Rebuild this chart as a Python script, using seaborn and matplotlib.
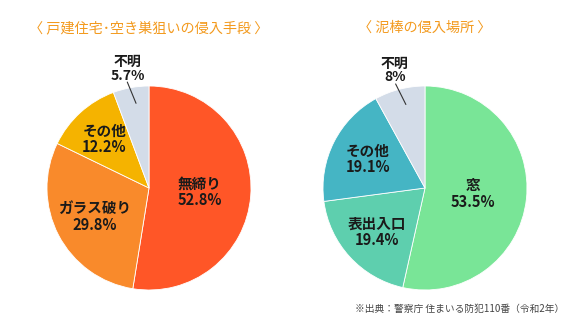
import numpy as np
import matplotlib
matplotlib.use("Agg")
import matplotlib.pyplot as plt
import seaborn as sns

sns.set_theme(style="white")
plt.rcParams['font.family'] = ['Noto Sans CJK JP', 'DejaVu Sans']

# data
left_title = "〈 戸建住宅･空き巣狙いの侵入手段 〉"
left_labels = ["無締り", "ガラス破り", "その他", "不明"]
left_values = [52.8, 29.8, 12.2, 5.7]
left_colors = ["#FF5627", "#F98A2B", "#F5B300", "#D3DCE8"]

right_title = "〈 泥棒の侵入場所 〉"
right_labels = ["窓", "表出入口", "その他", "不明"]
right_values = [53.5, 19.4, 19.1, 8]
right_colors = ["#79E597", "#5ECFAE", "#45B5C4", "#D3DCE8"]

source = "※出典：警察庁 住まいる防犯110番（令和2年）"

W, H = 587, 330
fig = plt.figure(figsize=(W / 100, H / 100), dpi=100)


def fmt(v):
    return f"{v:g}%"


def draw(cx, cy, r, labels, values, colors, inner_r, title):
    ax = fig.add_axes([(cx - r) / W, (H - cy - r) / H, 2 * r / W, 2 * r / H])
    wedges, _ = ax.pie(values, colors=colors, startangle=90, counterclock=False,
                       radius=1, wedgeprops=dict(edgecolor="white", linewidth=0.6))
    ax.set_xlim(-1, 1)
    ax.set_ylim(-1, 1)
    ax.set_aspect("equal")
    ax.axis("off")
    for i, (w, lab, val) in enumerate(zip(wedges, labels, values)):
        mid = np.deg2rad((w.theta1 + w.theta2) / 2)
        if i < len(labels) - 1:
            rr = inner_r[i]
            ax.text(rr * np.cos(mid), rr * np.sin(mid), f"{lab}\n{fmt(val)}",
                    ha="center", va="center", fontsize=10.5, fontweight="semibold",
                    color="#1a1a1a", linespacing=1.05)
        else:
            a = mid - np.deg2rad(1.5)
            ax.plot([0.84 * np.cos(a), 1.06 * np.cos(a + 0.05)],
                    [0.84 * np.sin(a), 1.06 * np.sin(a + 0.05)],
                    color="#333333", lw=0.8, clip_on=False)
            ax.text(1.19 * np.cos(mid), 1.19 * np.sin(mid), f"{lab}\n{fmt(val)}",
                    ha="center", va="center", fontsize=10, fontweight="semibold",
                    color="#1a1a1a", linespacing=1.0, clip_on=False)
    fig.text(cx / W, 1 - 28 / H, title, ha="center", va="center",
             fontsize=10.2, color="#F39A1E")


draw(149, 188, 102, left_labels, left_values, left_colors, [0.5, 0.6, 0.65], left_title)
draw(425, 188, 102, right_labels, right_values, right_colors, [0.47, 0.64, 0.63], right_title)

fig.text(460 / W, 1 - 309 / H, source, ha="center", va="center",
         fontsize=7, color="#444444")

fig.savefig("out.png", dpi=100)
